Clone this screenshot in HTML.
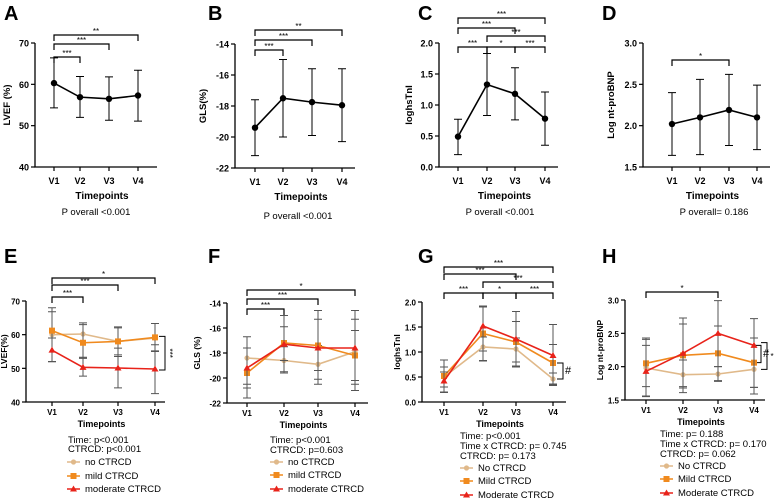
<!DOCTYPE html>
<html><head><meta charset="utf-8"><style>
body{margin:0;background:#fff;}
svg{display:block;font-family:"Liberation Sans",sans-serif;}
</style></head><body>
<svg id="fig" width="778" height="499" viewBox="0 0 778 499"></svg>
<script>
const timepoints=["V1","V2","V3","V4"];
// Top row single-series values
const aMean=[60.3,56.9,56.5,57.3], aLo=[54.3,52,51.3,51.1], aHi=[66.4,61.9,61.8,63.4];
const bMean=[-19.4,-17.5,-17.75,-17.95], bLo=[-21.2,-20,-19.9,-20.3], bHi=[-17.6,-15,-15.6,-15.6];
const cMean=[0.49,1.33,1.18,0.78], cLo=[0.2,0.83,0.76,0.35], cHi=[0.77,1.83,1.6,1.21];
const dMean=[2.02,2.1,2.19,2.1], dLo=[1.64,1.65,1.76,1.71], dHi=[2.4,2.56,2.62,2.49];
// Bottom row group values
const eNo=[60,60.2,58,59], eNoLo=[52,53.3,53.5,55.2], eNoHi=[66.8,63.5,62.3,63.3];
const eMild=[61.2,57.6,58,59.2], eMildLo=[52,53,54,55], eMildHi=[68,63,62,63.3];
const eMod=[55.4,50.3,50.1,49.8], eModLo=[52,47.7,44.2,42.5], eModHi=[59,53,56,57];
const fNo=[-18.4,-18.6,-18.9,-17.9], fNoLo=[-20.5,-19.6,-20.5,-20.5], fNoHi=[-17.6,-17.5,-17.4,-15.3];
const fMild=[-19.6,-17.2,-17.4,-18.2], fMildLo=[-21.6,-19.5,-20.1,-21], fMildHi=[-17.6,-15,-14.6,-14.6];
const fMod=[-19.2,-17.3,-17.6,-17.6], fModLo=[-20.8,-18.6,-19.4,-20.2], fModHi=[-16.7,-15.9,-15.3,-16.2];
const gNo=[0.5,1.1,1.06,0.46], gNoLo=[0.2,0.83,0.72,0.33], gNoHi=[0.7,1.3,1.28,0.58];
const gMild=[0.52,1.37,1.2,0.78], gMildLo=[0.19,0.82,0.8,0.36], gMildHi=[0.84,1.92,1.61,1.15];
const gMod=[0.42,1.52,1.26,0.93], gModLo=[0.3,1.02,0.7,0.35], gModHi=[0.6,1.9,1.81,1.55];
const hNo=[1.98,1.88,1.89,1.96], hNoLo=[1.7,1.68,1.79,1.69], hNoHi=[2.32,2.1,2.0,2.43];
const hMild=[2.05,2.17,2.2,2.06], hMildLo=[1.56,1.61,1.78,1.59], hMildHi=[2.43,2.73,2.61,2.72];
const hMod=[1.93,2.2,2.5,2.32], hModLo=[1.55,1.7,2.0,1.69], hModHi=[2.41,2.64,2.99,2.43];

const svg=document.getElementById('fig');
const NS='http://www.w3.org/2000/svg';
function el(tag,attrs,parent,text){const e=document.createElementNS(NS,tag);for(const k in attrs)e.setAttribute(k,attrs[k]);if(text!==undefined)e.textContent=text;(parent||svg).appendChild(e);return e;}

function panel(p){
  const g=el('g',{});
  
  
  const y=v=>p.yB+(v-p.ymin)/(p.ymax-p.ymin)*(p.yT-p.yB);
  const x=i=>p.xs[i];
  const L=el('text',{x:p.lx,y:p.ly,'font-size':20,'font-weight':'bold'},g,p.letter);
  
  const ax=el('path',{d:`M${p.ax},${p.yT}V${p.yB}H${p.axEnd}`,stroke:'#000','stroke-width':1.3,fill:'none'},g);
  
  p.ticks.forEach(t=>{
    el('line',{x1:p.ax-4,x2:p.ax,y1:y(t),y2:y(t),stroke:'#000','stroke-width':1.2},g);
    const tl=el('text',{x:p.ax-6,y:y(t)+3.5,'font-size':p.fs,'font-weight':'bold','text-anchor':'end'},g,p.tickFmt(t));
    
  });
  timepoints.forEach((tp,i)=>{
    el('line',{x1:x(i),x2:x(i),y1:p.yB,y2:p.yB+4,stroke:'#000','stroke-width':1.2},g);
    const tl=el('text',{x:x(i),y:p.yB+p.xo,'font-size':p.fs,'font-weight':'bold','text-anchor':'middle'},g,tp);
    
  });
  const xt=el('text',{x:(p.ax+p.axEnd)/2+6,y:p.yB+p.to,'font-size':p.fs+1,'font-weight':'bold','text-anchor':'middle'},g,'Timepoints');
  
  const cy=(p.yT+p.yB)/2;
  const yt=el('text',{x:p.ax-p.ytOff,y:cy,'font-size':p.fs+0.5,'font-weight':'bold','text-anchor':'middle',transform:`rotate(-90 ${p.ax-p.ytOff} ${cy})`},g,p.ytitle);
  
  p.brackets.forEach(b=>{
    const x1=x(b[0]),x2=x(b[1]);
    const br=el('path',{d:`M${x1},${b[2]+6}V${b[2]}H${x2}V${b[2]+6}`,stroke:'#000','stroke-width':1.2,fill:'none'},g);
    
    el('text',{x:(x1+x2)/2,y:b[2]-1,'font-size':8,'text-anchor':'middle'},g,b[3]);
  });
  (p.sideBrackets||[]).forEach(b=>{
    const y1=y(b[1]),y2=y(b[2]);
    const br=el('path',{d:`M${b[0]-6},${y1}H${b[0]}V${y2}H${b[0]-6}`,stroke:'#000','stroke-width':1,fill:'none'},g);
    
    const my=(y1+y2)/2;
    el('text',{x:b[0]+5,y:my+3,'font-size':b[3]=='#'?11:8,'text-anchor':'middle',transform:b[3]=='***'?`rotate(90 ${b[0]+5} ${my})`:''},g,b[3]);
  });
  p.series.forEach(s=>{
    const sg=el('g',{},g);
    
    s.mean.forEach((m,i)=>{
      const ec=s.ecol||'#555';
      el('path',{d:`M${x(i)},${y(s.lo[i])}V${y(s.hi[i])}M${x(i)-4},${y(s.lo[i])}h8M${x(i)-4},${y(s.hi[i])}h8`,stroke:ec,'stroke-width':1,fill:'none'},sg);
    });
    el('polyline',{points:s.mean.map((m,i)=>x(i)+','+y(m)).join(' '),stroke:s.col,'stroke-width':1.6,fill:'none'},sg);
    s.mean.forEach((m,i)=>marker(sg,s.mk,x(i),y(m),s.col));
  });
  (p.texts||[]).forEach(t=>{
    const tt=el('text',{x:t[0],y:t[1],'font-size':9.5,'text-anchor':t[3]||'start'},g,t[2]);
    
  });
  (p.legend||[]).forEach(l=>{
    const lg=el('g',{},g);
    
    el('line',{x1:l[0],x2:l[0]+13,y1:l[1]-3,y2:l[1]-3,stroke:l[3],'stroke-width':1.5},lg);
    marker(lg,l[4],l[0]+6.5,l[1]-3,l[3]);
    el('text',{x:l[0]+18,y:l[1],'font-size':9.5},lg,l[2]);
  });
}
function marker(g,mk,cx,cy,col){
  if(mk=='c')el('circle',{cx,cy,r:3.2,fill:col},g);
  else if(mk=='s')el('rect',{x:cx-3,y:cy-3,width:6,height:6,fill:col},g);
  else if(mk=='t')el('path',{d:`M${cx},${cy-3.5}L${cx+3.5},${cy+2.5}H${cx-3.5}Z`,fill:col},g);
  else if(mk=='d')el('circle',{cx,cy,r:2.6,fill:col},g);
}
const cNoC='#e0b98a',cMild='#f08a1e',cMod='#e8231a';
const blk=(m,lo,hi)=>[{name:'mean',mean:m,lo,hi,col:'#000',ecol:'#000',mk:'c'}];
const grp=(a,al,ah,b,bl,bh,c,cl,ch)=>[
 {name:'no-ctrcd',mean:a,lo:al,hi:ah,col:cNoC,mk:'d'},
 {name:'mild-ctrcd',mean:b,lo:bl,hi:bh,col:cMild,mk:'s'},
 {name:'moderate-ctrcd',mean:c,lo:cl,hi:ch,col:cMod,mk:'t'}];
const f0=t=>String(t), f1=t=>t.toFixed(1);

panel({letter:'A',lx:4,ly:20,ax:35,axEnd:157,yT:43,yB:167,ymin:40,ymax:70,ticks:[40,50,60,70],tickFmt:f0,fs:9,xo:17,to:32,ytitle:'LVEF (%)',ytOff:25,
 xs:[54,80,109,138],series:blk(aMean,aLo,aHi),brackets:[[0,1,57,'***'],[0,2,44,'***'],[0,3,35,'**']],
 texts:[[96,215,'P overall <0.001','middle']]});
panel({letter:'B',lx:208,ly:20,ax:235,axEnd:355,yT:44,yB:168,ymin:-22,ymax:-14,ticks:[-22,-20,-18,-16,-14],tickFmt:f0,fs:9,xo:17,to:32,ytitle:'GLS(%)',ytOff:29,
 xs:[255,283,312,342],series:blk(bMean,bLo,bHi),brackets:[[0,1,50,'***'],[0,2,40,'***'],[0,3,30,'**']],
 texts:[[298,219,'P overall <0.001','middle']]});
panel({letter:'C',lx:418,ly:20,ax:439,axEnd:558,yT:43,yB:167,ymin:0,ymax:2,ticks:[0,0.5,1,1.5,2],tickFmt:f1,fs:9,xo:17,to:32,ytitle:'loghsTnI',ytOff:27,
 xs:[458,487,515,545],series:blk(cMean,cLo,cHi),brackets:[[0,1,47,'***'],[1,2,47,'*'],[2,3,47,'***'],[1,3,36,'***'],[0,2,28,'***'],[0,3,18,'***']],
 texts:[[500,215,'P overall <0.001','middle']]});
panel({letter:'D',lx:602,ly:20,ax:643,axEnd:770,yT:43,yB:167,ymin:1.5,ymax:3,ticks:[1.5,2,2.5,3],tickFmt:f1,fs:9,xo:17,to:32,ytitle:'Log nt-proBNP',ytOff:29,
 xs:[672,700,729,757],series:blk(dMean,dLo,dHi),brackets:[[0,2,60,'*']],
 texts:[[714,215,'P overall= 0.186','middle']]});

panel({letter:'E',lx:4,ly:263,ax:26,axEnd:165,yT:301,yB:402,ymin:40,ymax:70,ticks:[40,50,60,70],tickFmt:f0,fs:8,xo:13,to:25,ytitle:'LVEF(%)',ytOff:19,
 xs:[52,83,118,155],series:grp(eNo,eNoLo,eNoHi,eMild,eMildLo,eMildHi,eMod,eModLo,eModHi),
 brackets:[[0,1,297,'***'],[0,2,285,'***'],[0,3,278,'*']],sideBrackets:[[165,59.5,49.5,'***']],
 texts:[[68,443,'Time: p<0.001'],[68,452,'CTRCD: p<0.001']],
 legend:[[67,465,'no CTRCD',cNoC,'d'],[67,479,'mild CTRCD',cMild,'s'],[67,492,'moderate CTRCD',cMod,'t']]});
panel({letter:'F',lx:208,ly:263,ax:227,axEnd:368,yT:303,yB:403,ymin:-22,ymax:-14,ticks:[-22,-20,-18,-16,-14],tickFmt:f0,fs:8,xo:13,to:25,ytitle:'GLS (%)',ytOff:27,
 xs:[247,284,318,355],series:grp(fNo,fNoLo,fNoHi,fMild,fMildLo,fMildHi,fMod,fModLo,fModHi),
 brackets:[[0,1,309,'***'],[0,2,299,'***'],[0,3,290,'*']],
 texts:[[270,443,'Time: p<0.001'],[270,453,'CTRCD: p=0.603']],
 legend:[[270,465,'no CTRCD',cNoC,'d'],[270,478,'mild CTRCD',cMild,'s'],[270,492,'moderate CTRCD',cMod,'t']]});
panel({letter:'G',lx:418,ly:263,ax:422,axEnd:566,yT:302,yB:402,ymin:0,ymax:2,ticks:[0,0.5,1,1.5,2],tickFmt:f1,fs:8,xo:13,to:25,ytitle:'loghsTnI',ytOff:22,
 xs:[444,483,516,553],series:grp(gNo,gNoLo,gNoHi,gMild,gMildLo,gMildHi,gMod,gModLo,gModHi),
 brackets:[[0,1,293,'***'],[1,2,293,'*'],[2,3,293,'***'],[1,3,282,'***'],[0,2,274,'***'],[0,3,267,'***']],sideBrackets:[[563,0.78,0.46,'#']],
 texts:[[460,439,'Time: p<0.001'],[460,449,'Time x CTRCD: p= 0.745'],[460,459,'CTRCD: p= 0.173']],
 legend:[[460,471,'No CTRCD',cNoC,'d'],[460,484,'Mild CTRCD',cMild,'s'],[460,498,'Moderate CTRCD',cMod,'t']]});
panel({letter:'H',lx:602,ly:263,ax:625,axEnd:765,yT:300,yB:400,ymin:1.5,ymax:3,ticks:[1.5,2,2.5,3],tickFmt:f1,fs:8,xo:13,to:25,ytitle:'Log nt-proBNP',ytOff:22,
 xs:[646,683,718,754],series:grp(hNo,hNoLo,hNoHi,hMild,hMildLo,hMildHi,hMod,hModLo,hModHi),
 brackets:[[0,2,292,'*']],sideBrackets:[[761,2.32,2.06,'#'],[767,2.36,1.96,'*']],
 texts:[[660,437,'Time: p= 0.188'],[660,447,'Time x CTRCD: p= 0.170'],[660,457,'CTRCD: p= 0.062']],
 legend:[[660,469,'No CTRCD',cNoC,'d'],[660,482,'Mild CTRCD',cMild,'s'],[660,496,'Moderate CTRCD',cMod,'t']]});
</script>
</body></html>
